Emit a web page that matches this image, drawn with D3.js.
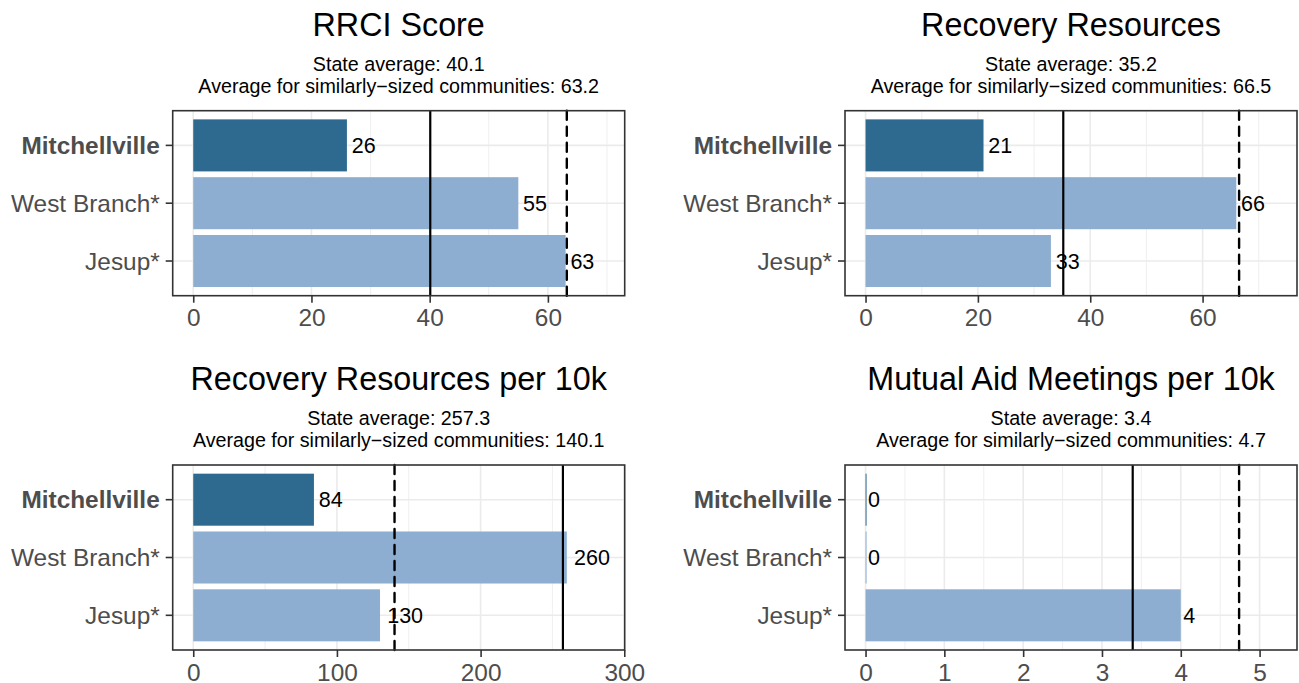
<!DOCTYPE html>
<html>
<head>
<meta charset="utf-8">
<script src="https://cdn.jsdelivr.net/npm/d3@7"></script>
<style>
  body { margin: 0; background: #fff; }
  svg { display: block; font-family: "Liberation Sans", Arial, sans-serif; }
</style>
</head>
<body>
<div id="chart"></div>
<script>
!(function (d3) {

  // data
  var communities = ["Mitchellville", "West Branch*", "Jesup*"];
  var highlight = "Mitchellville";

  var titles = ["RRCI Score", "Recovery Resources", "Recovery Resources per 10k", "Mutual Aid Meetings per 10k"];

  var rrciScore = [26, 55, 63];
  var recoveryResources = [21, 66, 33];
  var resourcesPer10k = [84, 260, 130];
  var mutualAidPer10k = [0, 0, 4];

  var stateAverages = [40.1, 35.2, 257.3, 3.39];
  var similarAverages = [63.2, 66.5, 140.1, 4.74];

  var ticks1 = [0, 20, 40, 60];
  var ticks2 = [0, 20, 40, 60];
  var ticks3 = [0, 100, 200, 300];
  var ticks4 = [0, 1, 2, 3, 4, 5];

  var seriesList = [rrciScore, recoveryResources, resourcesPer10k, mutualAidPer10k];
  var tickList = [ticks1, ticks2, ticks3, ticks4];

  // panel layout
  var W = 1299, H = 683;
  var panelW = 452, panelH = 185;
  var origins = [[172.7, 110.7], [845, 110.7], [172.7, 465], [845, 465]];

  var darkBlue = "#2e6a8f", lightBlue = "#8daed1";
  var fmt1 = d3.format(".1f");

  var svg = d3.select("#chart").append("svg")
      .attr("width", W)
      .attr("height", H);

  seriesList.forEach(function (values, p) {
    var ox = origins[p][0], oy = origins[p][1];
    var ticks = tickList[p];

    // ggplot-like limits: [0, max * 1.1] expanded 5% each side
    var hi = d3.max(values.concat([stateAverages[p], similarAverages[p]])) * 1.1;
    var pad = hi * 0.05;
    var x = d3.scaleLinear().domain([-pad, hi + pad]).range([0, panelW]);
    var y = d3.scaleBand().domain(communities).range([0, panelH])
        .paddingInner(0.1).paddingOuter(0.15);

    var g = svg.append("g")
        .attr("transform", "translate(" + ox + "," + oy + ")");

    // titles
    g.append("text")
        .attr("x", panelW / 2).attr("y", -74.7)
        .attr("text-anchor", "middle")
        .style("font-size", "32.3px")
        .text(titles[p]);

    g.append("text")
        .attr("x", panelW / 2).attr("y", -39.7)
        .attr("text-anchor", "middle")
        .style("font-size", "19.7px")
        .text("State average: " + fmt1(stateAverages[p]));

    g.append("text")
        .attr("x", panelW / 2).attr("y", -18)
        .attr("text-anchor", "middle")
        .style("font-size", "19.7px")
        .text("Average for similarly\u2212sized communities: " + fmt1(similarAverages[p]));

    // grid
    var step = ticks[1] - ticks[0];
    var minor = d3.range(ticks[0] - step / 2, hi + pad, step)
        .filter(function (v) { return x(v) > 0 && x(v) < panelW; });

    g.selectAll(".minor").data(minor).enter().append("line")
        .attr("x1", function (d) { return x(d); })
        .attr("x2", function (d) { return x(d); })
        .attr("y1", 0).attr("y2", panelH)
        .attr("stroke", "#ebebeb").attr("stroke-width", 0.8);

    g.selectAll(".majorx").data(ticks).enter().append("line")
        .attr("x1", function (d) { return x(d); })
        .attr("x2", function (d) { return x(d); })
        .attr("y1", 0).attr("y2", panelH)
        .attr("stroke", "#ebebeb").attr("stroke-width", 1.6);

    g.selectAll(".majory").data(communities).enter().append("line")
        .attr("x1", 0).attr("x2", panelW)
        .attr("y1", function (d) { return y(d) + y.bandwidth() / 2; })
        .attr("y2", function (d) { return y(d) + y.bandwidth() / 2; })
        .attr("stroke", "#ebebeb").attr("stroke-width", 1.6);

    // bars (zero-valued bars still show as a hairline, as in the reference)
    var rows = communities.map(function (c, i) { return { name: c, value: values[i] }; });

    g.selectAll(".bar").data(rows).enter().append("rect")
        .attr("x", x(0))
        .attr("y", function (d) { return y(d.name); })
        .attr("width", function (d) { return Math.max(1, x(d.value) - x(0)); })
        .attr("height", y.bandwidth())
        .attr("fill", function (d) { return d.name === highlight ? darkBlue : lightBlue; });

    // value labels
    var labels = g.selectAll(".lab").data(rows).enter().append("text")
        .attr("y", function (d) { return y(d.name) + y.bandwidth() / 2; })
        .attr("dy", "0.36em")
        .style("font-size", "21.5px")
        .text(function (d) { return d3.format("d")(Math.round(d.value)); });
    labels.attr("x", function (d) {
      return x(d.value) + 0.2 * this.getComputedTextLength();
    });

    // reference lines
    g.append("line")
        .attr("x1", x(stateAverages[p])).attr("x2", x(stateAverages[p]))
        .attr("y1", panelH).attr("y2", 0)
        .attr("stroke", "#000").attr("stroke-width", 2.2);

    g.append("line")
        .attr("x1", x(similarAverages[p])).attr("x2", x(similarAverages[p]))
        .attr("y1", panelH).attr("y2", 0)
        .attr("stroke", "#000").attr("stroke-width", 2.4)
        .attr("stroke-dasharray", "9,7")
        .attr("stroke-linecap", "round");

    // border
    g.append("rect")
        .attr("width", panelW).attr("height", panelH)
        .attr("fill", "none")
        .attr("stroke", "#333333").attr("stroke-width", 1.6);

    // axes
    var xAxis = g.append("g")
        .attr("transform", "translate(0," + panelH + ")")
        .call(d3.axisBottom(x).tickValues(ticks).tickFormat(d3.format("d"))
            .tickSize(7).tickPadding(6));
    var yAxis = g.append("g")
        .call(d3.axisLeft(y).tickSize(7).tickPadding(6));

    [xAxis, yAxis].forEach(function (ax) {
      ax.select(".domain").remove();
      ax.selectAll(".tick line").attr("stroke", "#333333").attr("stroke-width", 1.6);
      ax.selectAll(".tick text")
          .attr("fill", "#4d4d4d")
          .style("font-family", "Liberation Sans, Arial, sans-serif")
          .style("font-size", "24.4px");
    });
    xAxis.selectAll(".tick text").attr("dy", "0.72em");
    yAxis.selectAll(".tick text")
        .attr("dy", "0.35em")
        .style("font-weight", function (d) { return d === highlight ? "bold" : "normal"; });
  });

})(d3);
</script>
</body>
</html>
